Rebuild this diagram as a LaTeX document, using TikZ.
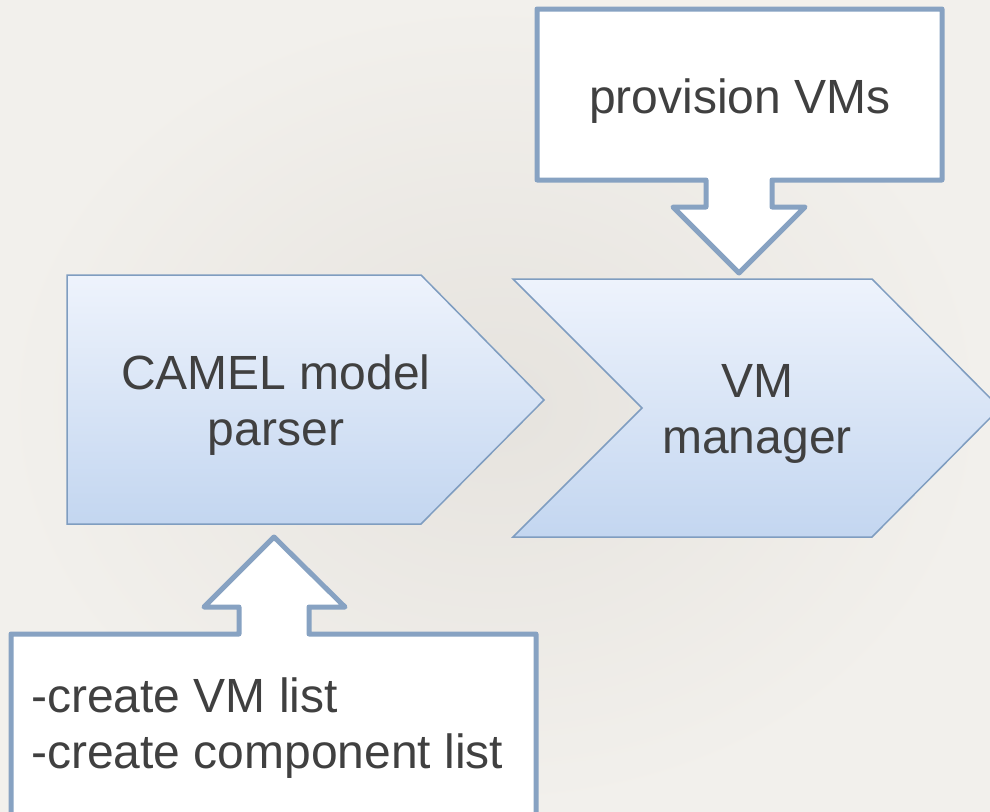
\documentclass[tikz,border=0pt]{standalone}
\usepackage{fontspec}
\setmainfont{Liberation Sans}
\usepackage{xcolor}
\usepackage{tikz}
\usetikzlibrary{positioning}

\definecolor{bgedge}{HTML}{F2F0EC}
\definecolor{bgmid}{HTML}{E6E3DE}
\definecolor{chevtop}{HTML}{EEF3FC}
\definecolor{chevbot}{HTML}{C3D6F0}
\definecolor{chevline}{HTML}{7F9DC0}
\definecolor{callline}{HTML}{87A2C2}
\definecolor{inktext}{HTML}{404040}

\begin{document}
\begin{tikzpicture}[x=1pt,y=-1pt,
    stage/.style={draw=chevline,line width=1.5pt,top color=chevtop,
      bottom color=chevbot,line join=miter},
    callout/.style={draw=callline,line width=5pt,fill=white,line join=round},
    label/.style={inner sep=0pt,text=inktext,
      font=\fontsize{48}{56}\selectfont}
  ]
    \useasboundingbox (0,0) rectangle (990,811);
    \fill[inner color=bgmid,outer color=bgedge] (0,0) rectangle (990,811);
    \path[stage] (67,275) -- (421,275) -- (544,400) -- (421,524) -- (67,524) -- cycle;
    \path[stage] (513,279) -- (872,279) -- (1000,408) -- (872,537) -- (513,537)
      -- (642,408) -- cycle;
    \path[callout] (537,9) -- (942,9) -- (942,180) -- (772,180) -- (772,207)
      -- (805,207) -- (739,273) -- (673,207) -- (706,207) -- (706,180)
      -- (537,180) -- cycle;
    \path[callout] (11,634) -- (239,634) -- (239,607) -- (204,607) -- (274,537)
      -- (345,607) -- (309,607) -- (309,634) -- (536,634) -- (536,825)
      -- (11,825) -- cycle;
    \node[label,align=center] (parser) at (276,405) {CAMEL model\\parser};
    \node[label,align=center] (manager) at (757,414) {VM\\manager};
    \node[label,anchor=base] (provision) at (740,113) {provision VMs};
    \node[label,align=left,anchor=west] (lists) at (31,728)
      {-create VM list\\-create component list};
  \end{tikzpicture}
\end{document}
